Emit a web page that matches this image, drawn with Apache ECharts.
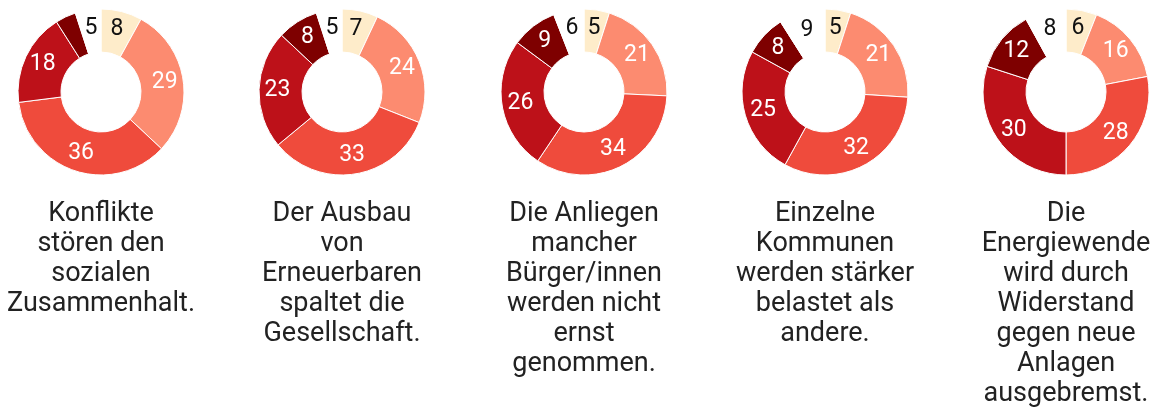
<!DOCTYPE html>
<html>
<head>
<meta charset="utf-8">
<script src="https://cdn.jsdelivr.net/npm/echarts@6/dist/echarts.min.js"></script>
<style>
html,body{margin:0;padding:0;background:#fff;}
#chart{width:1154px;height:411px;}
</style>
</head>
<body>
<div id="chart"></div>
<script>
// Categories (answer options), in drawing order clockwise from the top
const categories = ['Trifft gar nicht zu', 'Trifft eher nicht zu', 'Teils/teils', 'Trifft eher zu', 'Trifft voll und ganz zu', 'Weiß nicht'];
const categoryColors = ['#feecca', '#fc8b70', '#ef4b3c', '#bd1119', '#7e0000', '#ffffff'];

// Statements (one donut each)
const statements = [
  'Konflikte\nstören den\nsozialen\nZusammenhalt.',
  'Der Ausbau\nvon\nErneuerbaren\nspaltet die\nGesellschaft.',
  'Die Anliegen\nmancher\nBürger/innen\nwerden nicht\nernst\ngenommen.',
  'Einzelne\nKommunen\nwerden stärker\nbelastet als\nandere.',
  'Die\nEnergiewende\nwird durch\nWiderstand\ngegen neue\nAnlagen\nausgebremst.'
];

// Values (percent) per statement, same order as categories
const values1 = [8, 29, 36, 18, 4, 5];
const values2 = [7, 24, 33, 23, 8, 5];
const values3 = [5, 21, 34, 26, 9, 6];
const values4 = [5, 21, 32, 25, 8, 9];
const values5 = [6, 16, 28, 30, 12, 8];
const allValues = [values1, values2, values3, values4, values5];

const centersX = [101, 342, 584, 825, 1066];
const centerY = 92;

const chart = echarts.init(document.getElementById('chart'), null, {renderer: 'canvas'});

const series = allValues.map((vals, i) => ({
  type: 'pie',
  name: statements[i],
  center: [centersX[i], centerY],
  radius: [40, 83],
  startAngle: 90,
  clockwise: true,
  avoidLabelOverlap: false,
  silent: true,
  animation: false,
  itemStyle: { borderColor: '#ffffff', borderWidth: 1 },
  label: {
    show: true,
    position: 'inside',
    fontFamily: 'Roboto',
    fontSize: 23,
    color: '#ffffff',
    formatter: p => (p.value < 5 ? '' : String(p.value))
  },
  labelLine: { show: false },
  emphasis: { disabled: true },
  data: vals.map((v, k) => ({
    name: categories[k],
    value: v,
    itemStyle: { color: categoryColors[k] },
    label: (k === 0 || k === 5) ? { color: '#111111' } : undefined
  }))
}));

const graphics = statements.map((t, i) => ({
  type: 'text',
  x: centersX[i],
  y: 199,
  silent: true,
  style: {
    text: t,
    align: 'center',
    verticalAlign: 'top',
    fontFamily: 'Roboto',
    fontSize: 27,
    lineHeight: 30,
    fill: '#222222'
  }
}));

chart.setOption({
  backgroundColor: '#ffffff',
  animation: false,
  series: series,
  graphic: graphics
});
</script>
</body>
</html>
